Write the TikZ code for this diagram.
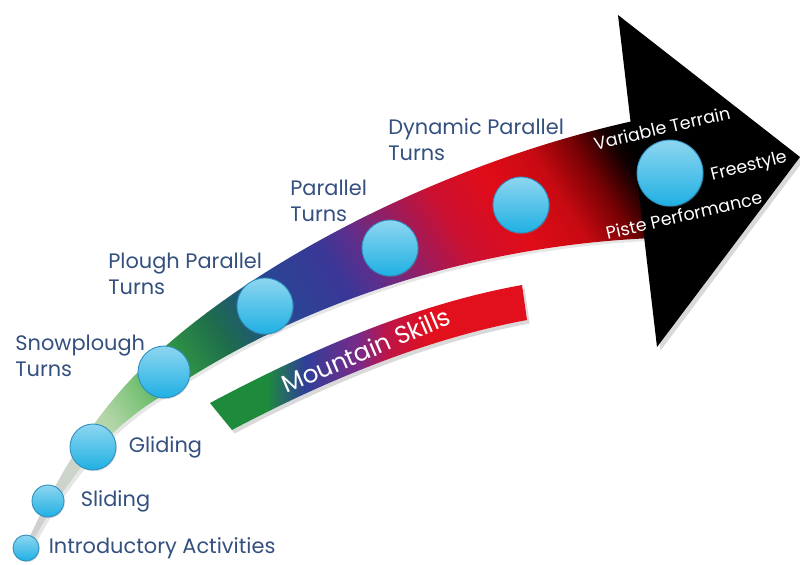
\documentclass[tikz,border=0pt]{standalone}
\usepackage{fontspec}
\setmainfont{Poppins}
\usepackage{tikz}
\usetikzlibrary{positioning,shadows}
\definecolor{skillblue}{RGB}{52,80,126}
\definecolor{balltop}{RGB}{142,214,240}
\definecolor{ballmid}{RGB}{96,198,236}
\definecolor{ballbot}{RGB}{31,176,227}
\definecolor{ballrim}{RGB}{44,142,192}
% shaft colours, tail to head
\definecolor{rampgrey}{RGB}{207,207,207}
\definecolor{rampmist}{RGB}{205,213,202}
\definecolor{ramppale}{RGB}{178,213,166}
\definecolor{ramplight}{RGB}{121,194,119}
\definecolor{rampgreen}{RGB}{47,148,68}
\definecolor{rampdeep}{RGB}{30,108,76}
\definecolor{rampteal}{RGB}{31,91,111}
\definecolor{rampblue}{RGB}{43,69,148}
\definecolor{rampindigo}{RGB}{58,55,151}
\definecolor{ramppurple}{RGB}{91,47,142}
\definecolor{rampplum}{RGB}{156,28,92}
\definecolor{rampcrimson}{RGB}{204,16,48}
\definecolor{rampred}{RGB}{224,12,24}
\definecolor{rampdark}{RGB}{200,10,18}
\definecolor{rampmaroon}{RGB}{120,2,4}
\definecolor{rampnight}{RGB}{16,0,0}
% mountain band colours
\definecolor{mtngreen}{RGB}{30,138,60}
\definecolor{mtnblue}{RGB}{47,63,152}
\definecolor{mtnpurple}{RGB}{122,42,136}
\definecolor{mtnmagenta}{RGB}{190,20,70}
\definecolor{mtnred}{RGB}{226,16,28}
\pgfdeclarehorizontalshading{arrowramp}{320bp}{color(0bp)=(rampgrey); color(56.7bp)=(rampmist); color(85bp)=(ramppale); color(107.7bp)=(ramplight); color(136.1bp)=(rampgreen); color(164.4bp)=(rampdeep); color(181.4bp)=(rampteal); color(204.1bp)=(rampblue); color(238.1bp)=(rampindigo); color(255.1bp)=(ramppurple); color(283.5bp)=(rampplum); color(309bp)=(rampcrimson); color(340.1bp)=(rampred); color(368.5bp)=(rampdark); color(391.2bp)=(rampmaroon); color(411bp)=(rampnight); color(419.5bp)=(black); color(453.5bp)=(black)}
\pgfdeclarehorizontalshading{mtnramp}{100bp}{color(0bp)=(mtngreen); color(34bp)=(mtngreen); color(40bp)=(mtnblue); color(48.5bp)=(mtnpurple); color(53bp)=(mtnmagenta); color(60bp)=(mtnred); color(100bp)=(mtnred)}
\tikzstyle{ball} = [circle, inner sep=0, draw=ballrim, line width=0.5pt, top color=balltop, middle color=ballmid, bottom color=ballbot, drop shadow={opacity=0.25, shadow xshift=0.5pt, shadow yshift=-0.7pt}]
\tikzstyle{steplabel} = [inner sep=0, align=left, text=skillblue, font=\fontsize{11.9}{14.8}\selectfont]
\tikzstyle{headlabel} = [inner sep=0, text=white, font=\fontsize{10}{12}\selectfont]
\newcommand{\shaftpath}{(24,549) .. controls (60,470) and (95,415) .. (140,370) .. controls (240,270) and (440,160) .. (652,117) -- (654,238) .. controls (480,245) and (300,300) .. (157,399) .. controls (115,425) and (70,470) .. (29,549) -- cycle}
\newcommand{\mtnpath}{(210,403) .. controls (300,355) and (410,305) .. (522,285) -- (527,320) .. controls (430,338) and (330,378) .. (232,430) -- cycle}

\begin{document}
\begin{tikzpicture}[x=0.02cm, y=-0.02cm]
\useasboundingbox (0,0) rectangle (800,564);

\path[fill=white, drop shadow={opacity=0.2, shadow xshift=1.5pt, shadow yshift=-1.5pt}] \shaftpath;
\begin{scope}
\clip \shaftpath;
\node[inner sep=0, outer sep=0, anchor=west, rotate=32] (ramp) at (18,557) {\pgfuseshading{arrowramp}};
\end{scope}
\fill[black, drop shadow={opacity=0.3, shadow xshift=2pt, shadow yshift=-2pt}] (618,15) -- (800,157) -- (657,347) -- cycle;

\shade[shading=mtnramp, drop shadow={opacity=0.3, shadow xshift=1.5pt, shadow yshift=-2pt}] \mtnpath;
\node[inner sep=0, text=white, font=\fontsize{14}{14}\selectfont, rotate=23] (mtnlbl) at (366,350) {Mountain Skills};

\node[ball, minimum size=0.52cm] (intro) at (26,548) {};
\node[ball, minimum size=0.64cm] (sliding) at (48,501) {};
\node[ball, minimum size=0.92cm] (gliding) at (93,447) {};
\node[ball, minimum size=1.04cm] (snowplough) at (164,372) {};
\node[ball, minimum size=1.12cm] (ploughpar) at (265,306) {};
\node[ball, minimum size=1.12cm] (parallel) at (390,248) {};
\node[ball, minimum size=1.12cm] (dynamic) at (521,205) {};
\node[ball, minimum size=1.32cm] (terrain) at (670,173) {};

\node[steplabel, right=0.18cm of intro] (introlbl) {Introductory Activities};
\node[steplabel, right=0.32cm of sliding] (slidinglbl) {Sliding};
\node[steplabel, right=0.24cm of gliding] (glidinglbl) {Gliding};
\node[steplabel, anchor=west] (snowlbl) at (15,356) {Snowplough\\Turns};
\node[steplabel, anchor=west] (ploughlbl) at (108,274) {Plough Parallel\\Turns};
\node[steplabel, anchor=west] (parlbl) at (290,201) {Parallel\\Turns};
\node[steplabel, anchor=west] (dynlbl) at (388,140) {Dynamic Parallel\\Turns};

\node[headlabel, rotate=13] (varlbl) at (662,128) {Variable Terrain};
\node[headlabel, rotate=14] (freelbl) at (749,167) {Freestyle};
\node[headlabel, rotate=13] (pistelbl) at (684,215) {Piste Performance};
\end{tikzpicture}
\end{document}
